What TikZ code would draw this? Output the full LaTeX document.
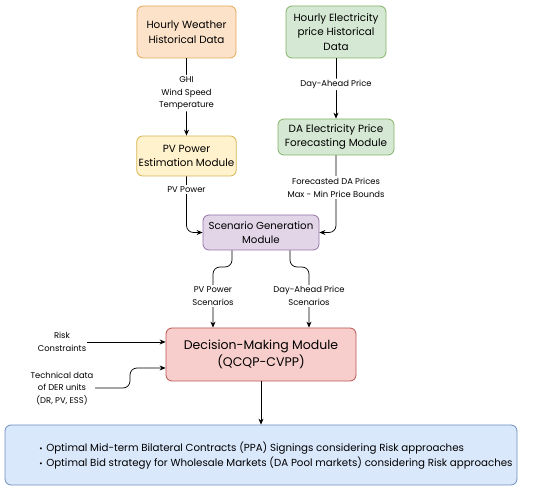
\documentclass[tikz,border=0pt]{standalone}
\usepackage{fontspec}
\setmainfont{Poppins}
\usetikzlibrary{arrows.meta}
\definecolor{orF}{HTML}{FCE2C9}\definecolor{orD}{HTML}{E3A957}
\definecolor{grF}{HTML}{D5E8D4}\definecolor{grD}{HTML}{82B366}
\definecolor{yeF}{HTML}{FFF2CC}\definecolor{yeD}{HTML}{D6B656}
\definecolor{puF}{HTML}{E1D5E7}\definecolor{puD}{HTML}{9673A6}
\definecolor{reF}{HTML}{F8CECC}\definecolor{reD}{HTML}{B85450}
\definecolor{blF}{HTML}{DAE8FC}\definecolor{blD}{HTML}{6C8EBF}
\tikzset{
  x=1pt,y=-1pt,
  box/.style={draw, line width=0.8pt, rounded corners=6pt, align=center, inner sep=2pt,
    font=\fontsize{10.4}{14.8}\selectfont},
  lbl/.style={fill=white, inner sep=1.5pt, align=center, font=\fontsize{8.4}{12.8}\selectfont},
  side/.style={inner sep=1pt, align=center, font=\fontsize{8.4}{12.5}\selectfont},
  arr/.style={draw, line width=0.7pt, -{Stealth[length=6pt,width=5pt]}, rounded corners=7pt},
}
\begin{document}
\begin{tikzpicture}
\useasboundingbox (0,0) rectangle (550,494);
\node[box, fill=orF, draw=orD, minimum width=99pt, minimum height=52pt] (wea) at (186.5,32) {Hourly Weather\\Historical Data};
\node[box, fill=grF, draw=grD, minimum width=100pt, minimum height=52pt] (ele) at (336,32) {Hourly Electricity\\price Historical\\Data};
\node[box, fill=yeF, draw=yeD, minimum width=99pt, minimum height=40pt] (pv) at (186.5,156) {PV Power\\Estimation Module};
\node[box, fill=grF, draw=grD, minimum width=116pt, minimum height=36pt] (da) at (336,137) {DA Electricity Price\\Forecasting Module};
\node[box, fill=puF, draw=puD, minimum width=116pt, minimum height=35pt, font=\fontsize{10.2}{14}\selectfont] (sc) at (261,232.5) {Scenario Generation\\Module};
\node[box, fill=reF, draw=reD, minimum width=190pt, minimum height=53pt, font=\fontsize{12.5}{17}\selectfont] (dm) at (261,354.5) {Decision-Making Module\\(QCQP-CVPP)};
\node[box, fill=blF, draw=blD, minimum width=512pt, minimum height=60pt] (out) at (261,455) {};
\node[inner sep=0pt, align=left, font=\fontsize{10.25}{15}\selectfont] (outtxt) at (276,455.5) {{\footnotesize\textbullet}\hspace{3.5pt}Optimal Mid-term Bilateral Contracts (PPA) Signings considering Risk approaches\\{\footnotesize\textbullet}\hspace{3.5pt}Optimal Bid strategy for Wholesale Markets (DA Pool markets) considering Risk approaches};
\node[side] (risk) at (62,342) {Risk\\Constraints};
\node[side] (tech) at (62,388.5) {Technical data\\of DER units\\(DR, PV, ESS)};
\coordinate (t1) at (95,388);
\coordinate (r1) at (87,342);
% arrows
\draw[arr] (wea.south) -- (pv.north) node[lbl, pos=0.45] {GHI\\Wind Speed\\Temperature};
\draw[arr] (ele.south) -- (da.north) node[lbl, pos=0.43] {Day-Ahead Price};
\draw[arr] (pv.south) -- (186.5,232.5) -- (sc.west);
\node[lbl] at (186.5,189.5) {PV Power};
\draw[arr] (da.south) -- (336,232.5) -- (sc.east);
\node[lbl] at (336,187.5) {Forecasted DA Prices\\Max - Min Price Bounds};
\draw[arr] (sc.south -| 232,0) -- (232,267) -- (213,267) -- (dm.north -| 213,0);
\node[lbl] at (213,296) {PV Power\\Scenarios};
\draw[arr] (sc.south -| 290,0) -- (290,267) -- (309,267) -- (dm.north -| 309,0);
\node[lbl] at (309,296) {Day-Ahead Price\\Scenarios};
\draw[arr] (r1) -- (dm.west |- r1);
\draw[arr] (t1) -- (130,388) -- (130,368) -- (dm.west |- 0,368);
\draw[arr] (dm.south) -- (out.north);
\end{tikzpicture}
\end{document}
